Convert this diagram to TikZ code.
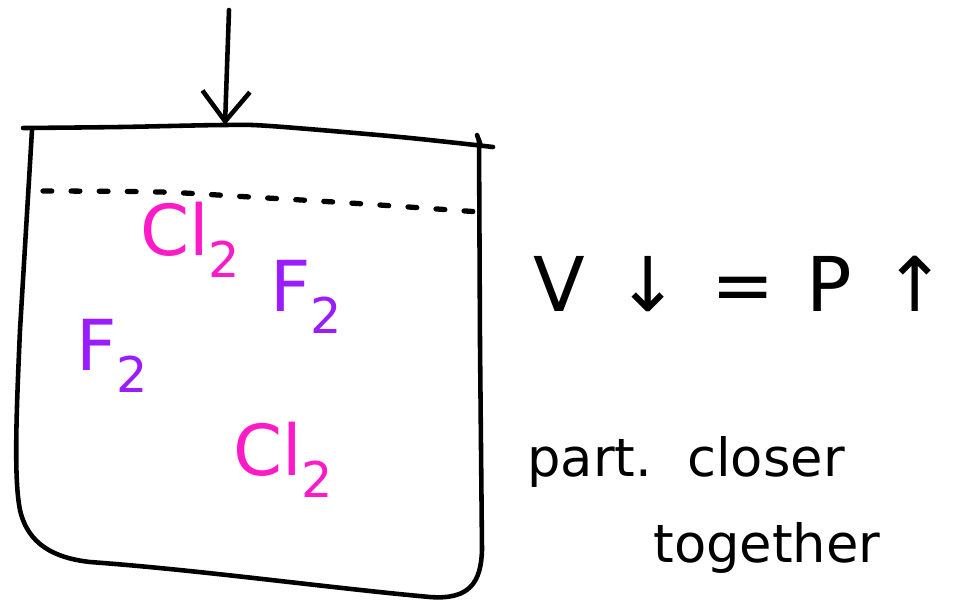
\documentclass[tikz,border=0pt]{standalone}
\usepackage{fontspec}
\setmainfont{DejaVu Sans}
\usetikzlibrary{arrows.meta,positioning}
\definecolor{hpink}{HTML}{FF1AC8}
\definecolor{hpurple}{HTML}{9A1CFF}
\newcommand{\low}[1]{\raisebox{-0.32em}{\fontsize{28}{30}\selectfont#1}}
\tikzset{
  ink/.style={line width=2.6pt,line cap=round,line join=round,black},
  push/.style={ink,-{Straight Barb[length=6mm,width=9.5mm,line width=2.6pt]}},
  dots/.style={ink,line width=3pt,dash pattern=on 5pt off 11pt},
  gas/.style={font=\fontsize{40}{44}\selectfont,inner sep=0pt},
  hand/.style={font=\fontsize{30}{34}\selectfont,inner sep=0pt},
}
\begin{document}
\begin{tikzpicture}[x=0.02cm,y=-0.02cm]
\useasboundingbox (0,0) rectangle (955,603);
% lid and piston arrow
\coordinate (top) at (229,10);
\coordinate (lid) at (225,125);
\draw[push] (top) -- (lid);
\draw[ink] plot[smooth] coordinates {(23,128) (120,127) (223,125) (270,126) (400,137) (493,147)};
\draw[ink] (477,135) -- (481,146);
% container
\draw[ink] (32,130) -- (20,330) .. controls (16,420) and (14,480) .. (20,510)
  .. controls (28,545) and (55,558) .. (90,562)
  .. controls (200,570) and (330,588) .. (430,597)
  .. controls (470,600) and (481,582) .. (482,550) -- (480,345) -- (479,140);
% old level
\draw[dots] plot[smooth] coordinates {(43,191) (160,192) (250,197) (350,203) (480,212)};
% molecules
\node[gas,text=hpink] (cla) at (190,240) {Cl\low{2}};
\node[gas,text=hpurple] (fa) at (306,297) {F\low{2}};
\node[gas,text=hpurple] (fb) at (112,356) {F\low{2}};
\node[gas,text=hpink] (clb) at (283,460) {Cl\low{2}};
% relation
\node[font=\fontsize{43}{48}\selectfont,inner sep=0pt] (rel) at (740,284) {V\hspace{18pt}↓\hspace{18pt}=\hspace{18pt}P\hspace{18pt}↑};
% note
\node[hand] (part) at (686,462) {part.\hspace{20pt}closer};
\node[hand] (tog) at (767,548) {together};
\end{tikzpicture}
\end{document}
